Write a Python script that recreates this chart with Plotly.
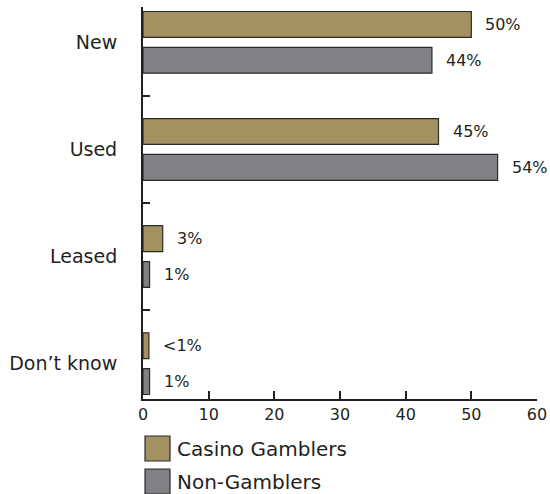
import plotly.graph_objects as go

categories = ["New", "Used", "Leased", "Don\u2019t know"]
casino_values = [50, 45, 3, 0.9]
casino_labels = ["50%", "45%", "3%", "<1%"]
non_values = [44, 54, 1, 1]
non_labels = ["44%", "54%", "1%", "1%"]
x_ticks = [0, 10, 20, 30, 40, 50, 60]
series_names = ["Casino Gamblers", "Non-Gamblers"]

GOLD = "#a39162"
GRAY = "#808184"
EDGE = "#2b2b2b"
FONT = "DejaVu Sans, Verdana, sans-serif"
TXT = "#231f20"

fig = go.Figure()
fig.add_trace(go.Bar(y=categories, x=casino_values, orientation="h", name=series_names[0],
                     marker=dict(color=GOLD, line=dict(color=EDGE, width=1.2)), showlegend=False))
fig.add_trace(go.Bar(y=categories, x=non_values, orientation="h", name=series_names[1],
                     marker=dict(color=GRAY, line=dict(color=EDGE, width=1.2)), showlegend=False))

annotations = []
for cat, v, lab in zip(categories, casino_values, casino_labels):
    annotations.append(dict(x=v, y=cat, text=lab, xanchor="left", yanchor="middle",
                            xshift=12, yshift=18, showarrow=False,
                            font=dict(family=FONT, size=16, color=TXT)))
for cat, v, lab in zip(categories, non_values, non_labels):
    annotations.append(dict(x=v, y=cat, text=lab, xanchor="left", yanchor="middle",
                            xshift=12, yshift=-18, showarrow=False,
                            font=dict(family=FONT, size=16, color=TXT)))

# custom legend with large swatches
PLOT_L, PLOT_W, PLOT_T, PLOT_H = 143, 394, 7, 392
shapes = []
legend_rows = [(series_names[0], GOLD, 436), (series_names[1], GRAY, 469)]
for name, col, ytop in legend_rows:
    y0 = 1 - (ytop + 25 - PLOT_T) / PLOT_H
    y1 = 1 - (ytop - PLOT_T) / PLOT_H
    x0 = (145 - PLOT_L) / PLOT_W
    x1 = (170 - PLOT_L) / PLOT_W
    shapes.append(dict(type="rect", xref="paper", yref="paper", x0=x0, x1=x1, y0=y0, y1=y1,
                       fillcolor=col, line=dict(color=EDGE, width=1.2)))
    annotations.append(dict(xref="paper", yref="paper", x=(175 - PLOT_L) / PLOT_W, y=(y0 + y1) / 2,
                            text=name, xanchor="left", yanchor="middle", showarrow=False,
                            font=dict(family=FONT, size=20, color=TXT)))

fig.update_layout(
    width=550, height=494,
    margin=dict(l=PLOT_L, r=550 - PLOT_L - PLOT_W, t=PLOT_T, b=494 - PLOT_T - PLOT_H),
    paper_bgcolor="white", plot_bgcolor="white",
    barmode="group", bargap=0.33, bargroupgap=0.28,
    font=dict(family=FONT, color=TXT),
    annotations=annotations, shapes=shapes,
    xaxis=dict(range=[0, 60], tickvals=x_ticks, ticks="inside", ticklen=8, tickwidth=1.5,
               tickcolor="#231f20", showline=True, linecolor="#231f20", linewidth=2,
               showgrid=False, zeroline=False, automargin=False,
               tickfont=dict(size=16, family=FONT, color=TXT)),
    yaxis=dict(categoryorder="array", categoryarray=categories, autorange=False,
               range=[3.33, -0.33], ticks="inside", tickson="boundaries", ticklen=7,
               tickwidth=1.5, tickcolor="#231f20", showline=True, linecolor="#231f20",
               linewidth=2, showgrid=False, zeroline=False, automargin=False,
               ticklabelstandoff=20, tickfont=dict(size=19, family=FONT, color=TXT)),
)

fig.write_html("out.html", config={"displayModeBar": False},
               post_script="document.body.style.margin='0';document.body.style.overflow='hidden';")
